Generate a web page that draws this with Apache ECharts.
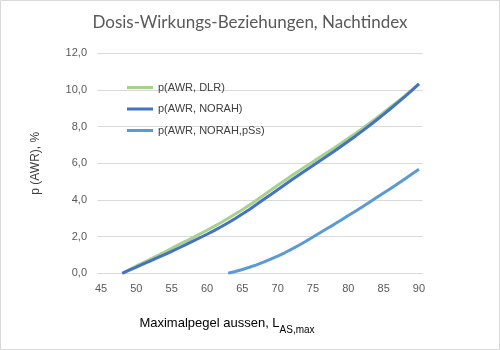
<!DOCTYPE html>
<html>
<head>
<meta charset="utf-8">
<script src="https://cdn.jsdelivr.net/npm/echarts@6/dist/echarts.min.js"></script>
<style>
html,body{margin:0;padding:0;background:#fff;}
#chart{width:500px;height:350px;}
</style>
</head>
<body>
<div id="chart"></div>
<script>
var categories = [45,46,47,48,49,50,51,52,53,54,55,56,57,58,59,60,61,62,63,64,65,66,67,68,69,70,71,72,73,74,75,76,77,78,79,80,81,82,83,84,85,86,87,88,89,90];

var dlr = [null,null,null,
  0.00,0.20,0.40,0.59,0.78,0.97,1.16,1.36,1.56,1.75,1.95,2.15,2.35,2.56,2.77,3.00,3.23,3.47,3.72,3.99,4.26,4.53,4.80,
  5.06,5.33,5.58,5.84,6.09,6.34,6.59,6.84,7.10,7.37,7.63,7.90,8.18,8.47,8.77,9.07,9.37,9.68,10.00,10.33];

var norah = [null,null,null,
  0.00,0.17,0.34,0.51,0.68,0.85,1.02,1.20,1.38,1.56,1.75,1.94,2.13,2.33,2.54,2.76,2.99,3.23,3.48,3.75,4.02,4.29,4.56,
  4.83,5.10,5.36,5.62,5.88,6.14,6.40,6.66,6.93,7.20,7.48,7.77,8.06,8.36,8.67,8.99,9.31,9.64,9.98,10.33];

var norahPss = [null,null,null,null,null,null,null,null,null,null,null,null,null,null,null,null,null,null,
  0.00,0.10,0.21,0.33,0.46,0.61,0.77,0.94,1.12,1.32,1.53,1.75,1.98,2.21,2.44,2.67,2.91,3.15,3.39,3.63,3.88,4.13,4.38,
  4.63,4.89,5.15,5.41,5.67];

var seriesNames = ['p(AWR, DLR)', 'p(AWR, NORAH)', 'p(AWR, NORAH,pSs)'];

var chart = echarts.init(document.getElementById('chart'));
chart.setOption({
  animation: false,
  backgroundColor: '#ffffff',
  title: {
    text: 'Dosis-Wirkungs-Beziehungen, Nachtindex',
    left: 'center',
    top: 12,
    padding: 0,
    textStyle: {fontFamily: 'Lato', fontSize: 17, fontWeight: 'normal', color: '#595959', lineHeight: 22}
  },
  graphic: [{
    type: 'rect', silent: true,
    shape: {x: 0.5, y: 0.5, width: 499, height: 349},
    style: {fill: 'none', stroke: '#d9d9d9', lineWidth: 1}
  }],
  legend: {
    orient: 'vertical',
    left: 127,
    top: 81,
    padding: 0,
    itemWidth: 26,
    itemHeight: 3,
    itemGap: 8.5,
    icon: 'rect',
    data: seriesNames,
    textStyle: {fontFamily: 'Liberation Sans', fontSize: 11, color: '#404040', lineHeight: 13}
  },
  grid: {left: 97.5, right: 77.5, top: 53.3, bottom: 76.7, containLabel: false},
  xAxis: {
    type: 'category',
    data: categories,
    boundaryGap: true,
    name: '{a|Maximalpegel aussen, L}{b|AS,max}',
    nameLocation: 'middle',
    nameGap: 41,
    nameTextStyle: {
      padding: [0, 66, 0, 0],
      rich: {
        a: {fontFamily: 'Liberation Sans', fontSize: 13, color: '#000000', verticalAlign: 'bottom', lineHeight: 16},
        b: {fontFamily: 'Liberation Sans', fontSize: 10, color: '#000000', verticalAlign: 'bottom', lineHeight: 16, padding: [0,0,-5,0]}
      }
    },
    axisLine: {show: true, lineStyle: {color: '#d9d9d9', width: 1}},
    axisTick: {show: false},
    axisLabel: {interval: 4, margin: 10, fontFamily: 'Liberation Sans', fontSize: 11, color: '#595959'},
    splitLine: {show: false}
  },
  yAxis: {
    type: 'value',
    min: 0, max: 12, interval: 2,
    name: 'p (AWR), %',
    nameLocation: 'middle',
    nameGap: 56,
    nameRotate: 90,
    nameTextStyle: {fontFamily: 'Liberation Sans', fontSize: 12, color: '#404040'},
    axisLine: {show: false},
    axisTick: {show: false},
    axisLabel: {
      margin: 10.5, fontFamily: 'Liberation Sans', fontSize: 11, color: '#595959',
      formatter: function (v) { return v.toFixed(1).replace('.', ','); }
    },
    splitLine: {lineStyle: {color: '#d9d9d9', width: 1}}
  },
  series: [
    {name: seriesNames[0], type: 'line', data: dlr, showSymbol: false, symbol: 'none',
     lineStyle: {color: '#a9d18e', width: 3}, itemStyle: {color: '#a9d18e'}},
    {name: seriesNames[1], type: 'line', data: norah, showSymbol: false, symbol: 'none',
     lineStyle: {color: '#4472c4', width: 3}, itemStyle: {color: '#4472c4'}},
    {name: seriesNames[2], type: 'line', data: norahPss, showSymbol: false, symbol: 'none',
     lineStyle: {color: '#5b9bd5', width: 3}, itemStyle: {color: '#5b9bd5'}}
  ]
});
</script>
</body>
</html>
